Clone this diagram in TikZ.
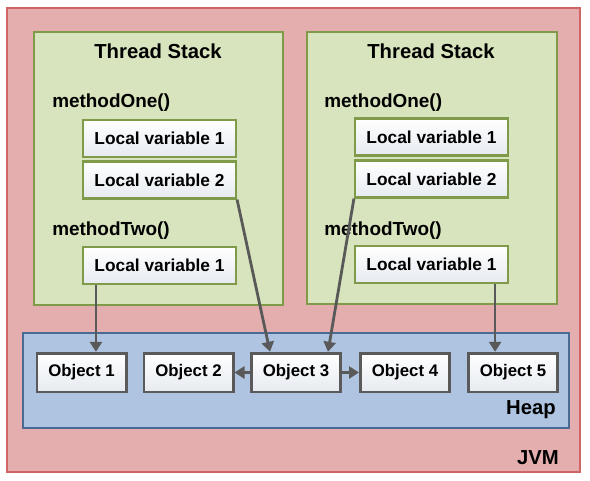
\documentclass[tikz,border=0pt]{standalone}
\usepackage{fontspec}
\setmainfont{Liberation Sans}
\usetikzlibrary{arrows.meta,fit,calc}
\definecolor{jvmfill}{HTML}{E4AEAE}
\definecolor{jvmdraw}{HTML}{CF6666}
\definecolor{tsfill}{HTML}{D7E4BD}
\definecolor{tsdraw}{HTML}{7F9A48}
\definecolor{heapfill}{HTML}{AFC4E0}
\definecolor{heapdraw}{HTML}{4A6A94}
\definecolor{objdraw}{HTML}{5A5A5A}
\definecolor{boxbot}{HTML}{E6EAF0}
\definecolor{arr}{HTML}{595959}
\tikzset{
  container/.style={inner sep=0pt, line width=1.7pt},
  lvbox/.style={draw=tsdraw, line width=1.6pt, top color=white, bottom color=boxbot,
    minimum width=114.75pt, minimum height=27.75pt, inner sep=0pt,
    font=\fontsize{13}{15}\selectfont\bfseries},
  objbox/.style={draw=objdraw, line width=2pt, top color=white, bottom color=boxbot,
    minimum width=67pt, minimum height=29pt, inner sep=0pt,
    font=\fontsize{12.6}{14}\selectfont\bfseries},
  title/.style={font=\fontsize{15.2}{17}\selectfont\bfseries, inner sep=0pt},
  meth/.style={font=\fontsize{14.2}{16}\selectfont\bfseries, inner sep=0pt, anchor=west},
  lbl/.style={font=\fontsize{15.2}{17}\selectfont\bfseries, inner sep=0pt, anchor=east},
  link/.style={draw=arr, line width=2.1pt, -{Triangle[length=7.5pt,width=9pt]}}
}
\begin{document}
\begin{tikzpicture}[x=0.75pt,y=-0.75pt]
\useasboundingbox (0,0) rectangle (590,480);
% JVM
\coordinate (j1) at (7,8); \coordinate (j2) at (580,472);
\node[container, fit=(j1)(j2), draw=jvmdraw, fill=jvmfill] (jvm) {};
% thread stacks
\coordinate (a1) at (34,32); \coordinate (a2) at (283,305);
\node[container, fit=(a1)(a2), draw=tsdraw, fill=tsfill] (tsA) {};
\coordinate (b1) at (307,32); \coordinate (b2) at (557,304);
\node[container, fit=(b1)(b2), draw=tsdraw, fill=tsfill] (tsB) {};
% heap
\coordinate (h1) at (23,333); \coordinate (h2) at (569,428);
\node[container, fit=(h1)(h2), draw=heapdraw, fill=heapfill] (heap) {};

% texts
\node[title] (tA) at (158,51) {Thread Stack};
\node[title] (tB) at (431,51) {Thread Stack};
\node[meth] (m1A) at (52,103) {methodOne()};
\node[meth] (m2A) at (52,231) {methodTwo()};
\node[meth] (m1B) at (324,103) {methodOne()};
\node[meth] (m2B) at (324,231) {methodTwo()};

% local variables
\node[lvbox] (lv1A) at (159.5,138.5) {Local variable 1};
\node[lvbox] (lv2A) at (159.5,180) {Local variable 2};
\node[lvbox] (lv3A) at (159.5,265.5) {Local variable 1};
\node[lvbox] (lv1B) at (431.5,137) {Local variable 1};
\node[lvbox] (lv2B) at (431.5,179) {Local variable 2};
\node[lvbox] (lv3B) at (431.5,264.5) {Local variable 1};

% objects
\node[objbox] (o1) at (81.5,372.5) {Object 1};
\node[objbox] (o2) at (188.5,372.5) {Object 2};
\node[objbox] (o3) at (296,372.5) {Object 3};
\node[objbox] (o4) at (405,372.5) {Object 4};
\node[objbox] (o5) at (513,372.5) {Object 5};

\node[lbl] (heapl) at (556,410) {Heap};
\node[lbl] (jvml) at (559,458) {JVM};

% connectors
\draw[link] (lv3A.south west) ++(14,0) coordinate (s1) -- (s1 |- o1.north);
\draw[link] (lv3B.south east) ++(-14,0) coordinate (s5) -- (s5 |- o5.north);
\draw[link] (lv2A.south east) -- ($(o3.north west)+(20,0)$);
\draw[link] (lv2B.south west) -- ($(o3.north east)+(-14,0)$);
\draw[link] (o3) -- (o2);
\draw[link] (o3) -- (o4);
\end{tikzpicture}
\end{document}
